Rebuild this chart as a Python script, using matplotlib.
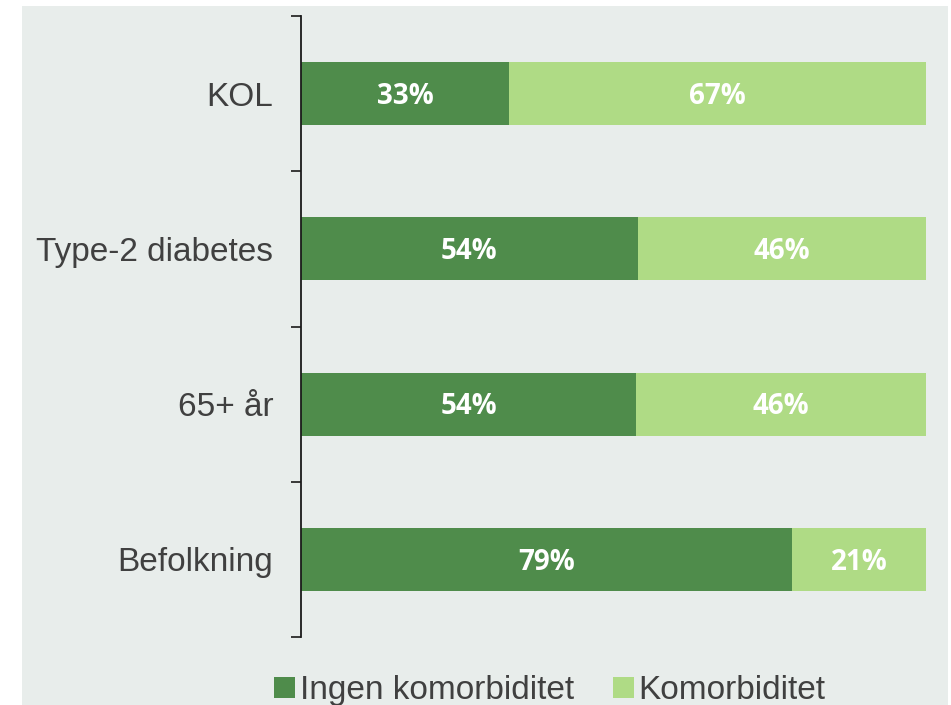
import matplotlib.pyplot as plt
from matplotlib.patches import Rectangle, Patch
from matplotlib.ticker import FixedLocator

categories = ["KOL", "Type-2 diabetes", "65+ år", "Befolkning"]
ingen = [33.3, 53.9, 53.6, 78.6]
komorb = [66.7, 46.1, 46.4, 21.4]
series_names = ["Ingen komorbiditet", "Komorbiditet"]

dark_green = "#4f8c4b"
light_green = "#afdb85"
bg = "#e8edeb"
text_col = "#404040"

fig = plt.figure(figsize=(9.51, 7.05), dpi=100)
fig.patch.set_facecolor("white")
fig.patches.append(Rectangle((22 / 951, 0), 926 / 951, 699 / 705,
                             transform=fig.transFigure, facecolor=bg,
                             edgecolor="none", zorder=-10))

ax = fig.add_axes([301 / 951, 1 - 637 / 705, 625 / 951, 621 / 705])
ax.set_facecolor("none")
ax.set_zorder(2)

y = list(range(len(categories)))
ax.barh(y, ingen, height=0.405, color=dark_green)
ax.barh(y, komorb, left=ingen, height=0.405, color=light_green)

# percentage labels, baseline shifted so the digits sit centred in the bar
for i in y:
    for xc, val in [(ingen[i] / 2, ingen[i]), (ingen[i] + komorb[i] / 2, komorb[i])]:
        ax.annotate(f"{val:.0f}%", (xc, i), xytext=(0, -7.3), textcoords="offset points",
                    ha="center", va="baseline", color="white", fontsize=20,
                    fontweight="bold", family="Open Sans")

ax.set_xlim(0, 100)
ax.set_ylim(3.5, -0.5)
ax.set_yticks(y)
ax.set_yticklabels(categories, fontsize=24, color=text_col, family="Liberation Sans")
ax.tick_params(axis="y", which="major", length=0, pad=20)
ax.yaxis.set_minor_locator(FixedLocator([-0.5, 0.5, 1.5, 2.5, 3.5]))
ax.tick_params(axis="y", which="minor", length=7, width=1.2, color="#1a1a1a")
ax.set_xticks([])

for side in ["top", "right", "bottom"]:
    ax.spines[side].set_visible(False)
ax.spines["left"].set_linewidth(1.3)
ax.spines["left"].set_color("#1a1a1a")

handles = [Patch(facecolor=dark_green, label=series_names[0]),
           Patch(facecolor=light_green, label=series_names[1])]
fig.legend(handles=handles, loc="center", bbox_to_anchor=(0.578, 0.02), ncol=2,
           frameon=False, handlelength=0.63, handleheight=0.57, handletextpad=0.15,
           columnspacing=1.17, borderpad=0,
           prop={"family": "Liberation Sans", "size": 24})
for t in fig.legends[0].get_texts():
    t.set_color(text_col)

plt.savefig("out.png", dpi=100)
